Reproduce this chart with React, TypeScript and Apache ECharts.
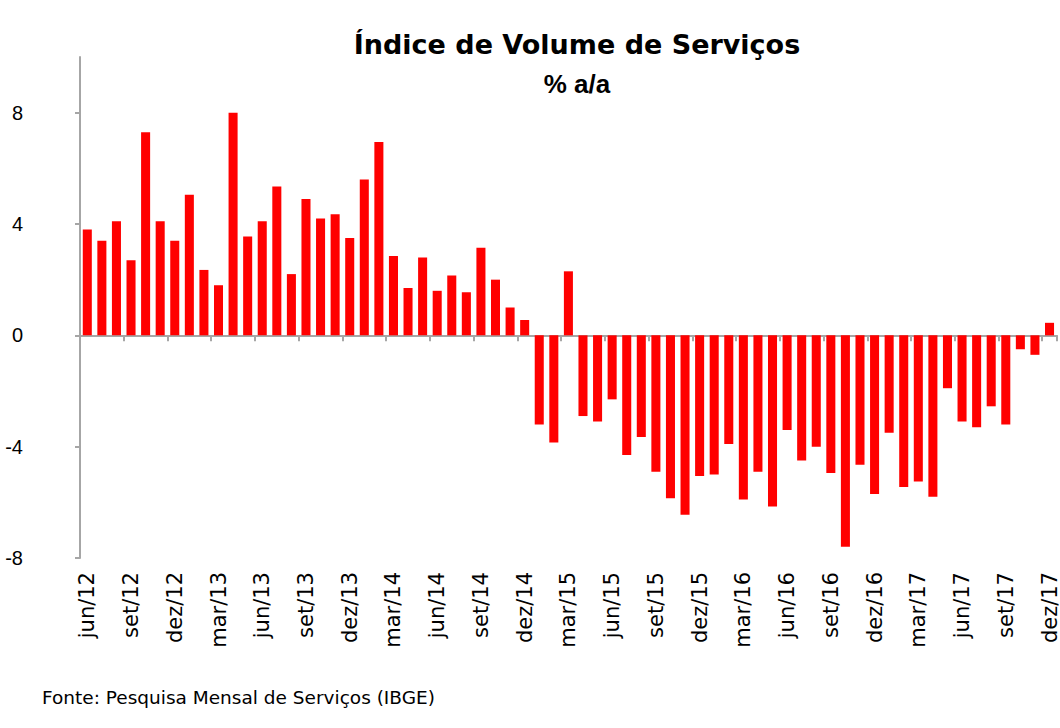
import React, { useEffect, useRef } from "react";
import * as echarts from "echarts";

const categories = [
  "jun/12", "jul/12", "ago/12", "set/12", "out/12", "nov/12", "dez/12",
  "jan/13", "fev/13", "mar/13", "abr/13", "mai/13", "jun/13", "jul/13", "ago/13", "set/13", "out/13", "nov/13", "dez/13",
  "jan/14", "fev/14", "mar/14", "abr/14", "mai/14", "jun/14", "jul/14", "ago/14", "set/14", "out/14", "nov/14", "dez/14",
  "jan/15", "fev/15", "mar/15", "abr/15", "mai/15", "jun/15", "jul/15", "ago/15", "set/15", "out/15", "nov/15", "dez/15",
  "jan/16", "fev/16", "mar/16", "abr/16", "mai/16", "jun/16", "jul/16", "ago/16", "set/16", "out/16", "nov/16", "dez/16",
  "jan/17", "fev/17", "mar/17", "abr/17", "mai/17", "jun/17", "jul/17", "ago/17", "set/17", "out/17", "nov/17", "dez/17",
];

const volumeValues = [
  3.8, 3.4, 4.1, 2.7, 7.3, 4.1, 3.4,
  5.05, 2.35, 1.8, 8.0, 3.55, 4.1, 5.35, 2.2, 4.9, 4.2, 4.35, 3.5,
  5.6, 6.95, 2.85, 1.7, 2.8, 1.6, 2.15, 1.55, 3.15, 2.0, 1.0, 0.55,
  -3.2, -3.85, 2.3, -2.9, -3.1, -2.3, -4.3, -3.65, -4.9, -5.85, -6.45, -5.05,
  -5.0, -3.9, -5.9, -4.9, -6.15, -3.4, -4.5, -4.0, -4.95, -7.6, -4.65, -5.7,
  -3.5, -5.45, -5.25, -5.8, -1.9, -3.1, -3.3, -2.55, -3.2, -0.5, -0.7, 0.45,
];

const yTicks = [-8, -4, 0, 4, 8];

const titleText = "Índice de Volume de Serviços";
const subtitleText = "% a/a";
const sourceText = "Fonte: Pesquisa Mensal de Serviços (IBGE)";

export default function App() {
  const ref = useRef<HTMLDivElement>(null);

  useEffect(() => {
    if (!ref.current) return;
    const chart = echarts.init(ref.current, null, { renderer: "svg" });
    const axisGray = "#a6a6a6";
    const font = "'Liberation Sans', Arial, sans-serif";
    chart.setOption({
      animation: false,
      backgroundColor: "#ffffff",
      grid: { left: 80, right: 0, top: 57, bottom: 170, containLabel: false },
      graphic: [
        {
          type: "text",
          x: 577,
          y: 44,
          style: {
            text: titleText,
            font: "bold 27px 'DejaVu Sans', sans-serif",
            fill: "#000",
            align: "center",
            verticalAlign: "middle",
          },
        },
        {
          type: "text",
          x: 577,
          y: 84,
          style: {
            text: subtitleText,
            font: "bold 26px 'Liberation Sans', Arial, sans-serif",
            fill: "#000",
            align: "center",
            verticalAlign: "middle",
          },
        },
        {
          type: "text",
          x: 42,
          y: 697,
          style: {
            text: sourceText,
            font: "18.5px 'DejaVu Sans', sans-serif",
            fill: "#000",
            align: "left",
            verticalAlign: "middle",
          },
        },
      ],
      xAxis: [
        {
          type: "category",
          data: categories,
          position: "bottom",
          axisLine: { show: true, onZero: true, lineStyle: { color: axisGray, width: 2 } },
          axisTick: { show: true, interval: 2, length: 6, inside: false, lineStyle: { color: axisGray, width: 2 } },
          axisLabel: { show: false },
          splitLine: { show: false },
        },
        {
          type: "category",
          data: categories,
          position: "bottom",
          axisLine: { show: false, onZero: false },
          axisTick: { show: false },
          axisLabel: {
            show: true,
            interval: 2,
            rotate: 90,
            margin: 14,
            color: "#000",
            fontSize: 21,
            fontFamily: "'DejaVu Sans', sans-serif",
          },
          splitLine: { show: false },
        },
      ],
      yAxis: {
        type: "value",
        min: -8,
        max: 10,
        interval: 4,
        axisLine: { show: true, onZero: false, lineStyle: { color: axisGray, width: 2 } },
        axisTick: { show: true, length: 5, lineStyle: { color: axisGray, width: 2 }, customValues: yTicks },
        axisLabel: {
          show: true,
          margin: 57,
          color: "#000",
          fontSize: 20,
          fontFamily: font,
          customValues: yTicks,
        },
        splitLine: { show: false },
      },
      series: [
        {
          type: "bar",
          xAxisIndex: 0,
          data: volumeValues,
          barCategoryGap: "38%",
          itemStyle: { color: "#ff0000" },
        },
      ],
    });
    return () => chart.dispose();
  }, []);

  return (
    <div
      ref={ref}
      style={{ position: "fixed", left: 0, top: 0, width: 1060, height: 728, background: "#fff" }}
    />
  );
}
